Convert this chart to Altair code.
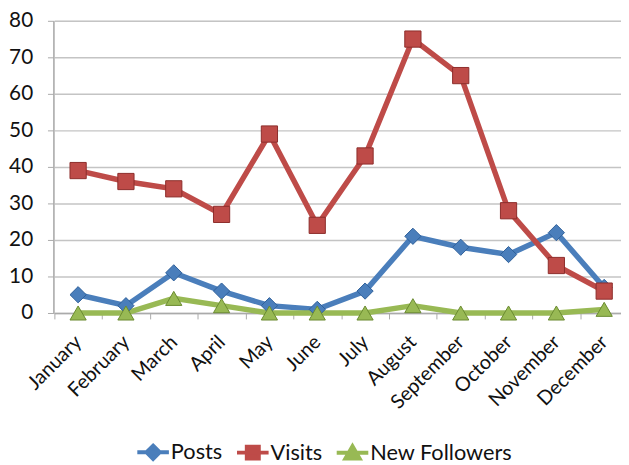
import altair as alt
import pandas as pd

months = ["January", "February", "March", "April", "May", "June", "July",
          "August", "September", "October", "November", "December"]
posts = [5, 2, 11, 6, 2, 1, 6, 21, 18, 16, 22, 7]
visits = [39, 36, 34, 27, 49, 24, 43, 75, 65, 28, 13, 6]
followers = [0, 0, 4, 2, 0, 0, 0, 2, 0, 0, 0, 1]
series_names = ["Posts", "Visits", "New Followers"]
series_values = [posts, visits, followers]
colors = ["#4A7EBB", "#BE4B48", "#98B954"]
stroke_colors = ["#2F5F99", "#8C2D2B", "#6A8A30"]
shapes = ["diamond", "square", "triangle-up"]
y_ticks = [0, 10, 20, 30, 40, 50, 60, 70, 80]

legend_paths = [
    "M-1,0L1,0M0,-0.42L0.42,0L0,0.42L-0.42,0Z",
    "M-1,0L1,0M-0.38,-0.38L0.38,-0.38L0.38,0.38L-0.38,0.38Z",
    "M-1,0L1,0M0,-0.42L0.45,0.36L-0.45,0.36Z",
]

rows = []
for name, vals in zip(series_names, series_values):
    for m, v in zip(months, vals):
        rows.append({"month": m, "series": name, "value": v})
df = pd.DataFrame(rows)

FONT = "Lato"

x = alt.X(
    "month:N",
    sort=months,
    scale=alt.Scale(type="band", range=[0.8, 582.2], paddingInner=0, paddingOuter=0),
    axis=alt.Axis(
        title=None, labelAngle=-45, labelAlign="right", labelBaseline="middle",
        labelFontSize=20, labelFont=FONT,
        labelColor="#111", tickBand="extent", tickSize=6, tickColor="#aaaaaa",
        domainColor="#aaaaaa", domainWidth=1.5, labelPadding=20, grid=False,
    ),
)
y = alt.Y(
    "value:Q",
    scale=alt.Scale(domain=[0, 80], nice=False),
    axis=alt.Axis(
        title=None, values=y_ticks, labelFontSize=21, labelFont=FONT,
        labelColor="#111", tickSize=6, tickColor="#aaaaaa", domainColor="#aaaaaa",
        domainWidth=1.5, gridColor="#c4c4c4", gridWidth=1.5, labelPadding=15,
    ),
)

base = alt.Chart(df)
lines = base.mark_line(strokeWidth=5.5).encode(
    x=x, y=y,
    color=alt.Color("series:N", scale=alt.Scale(domain=series_names, range=colors),
                    sort=series_names, legend=None),
)
points = base.mark_point(filled=True, size=270, opacity=1, strokeWidth=1).encode(
    x=x, y=y,
    color=alt.Color("series:N", scale=alt.Scale(domain=series_names, range=colors), legend=None),
    shape=alt.Shape("series:N", scale=alt.Scale(domain=series_names, range=shapes), legend=None),
    stroke=alt.Stroke("series:N", scale=alt.Scale(domain=series_names, range=stroke_colors), legend=None),
)

leg = alt.Legend(
    title=None, orient="none", legendX=83, legendY=419, direction="horizontal",
    labelFont=FONT, labelFontSize=22, labelColor="#111", symbolSize=1024,
    symbolStrokeWidth=4, labelOffset=0, columnPadding=6,
)
legend_layer = base.transform_filter("false").mark_point(
    filled=True, size=1024, opacity=1, strokeWidth=4
).encode(
    x=x, y=y,
    fill=alt.Fill("series:N", scale=alt.Scale(domain=series_names, range=colors), legend=leg),
    stroke=alt.Stroke("series:N", scale=alt.Scale(domain=series_names, range=colors), legend=leg),
    shape=alt.Shape("series:N", scale=alt.Scale(domain=series_names, range=legend_paths), legend=leg),
)

chart = (
    alt.layer(lines, points, legend_layer)
    .resolve_scale(color="independent", stroke="independent", shape="independent", fill="independent")
    .properties(
        width=575, height=296,
        autosize=alt.AutoSizeParams(type="none"),
        padding={"left": 46, "top": 10, "right": 0, "bottom": 150},
    )
    .configure_view(stroke=None)
    .configure(background="white")
)

chart.save("out.html", embed_options={"renderer": "svg", "actions": False})
